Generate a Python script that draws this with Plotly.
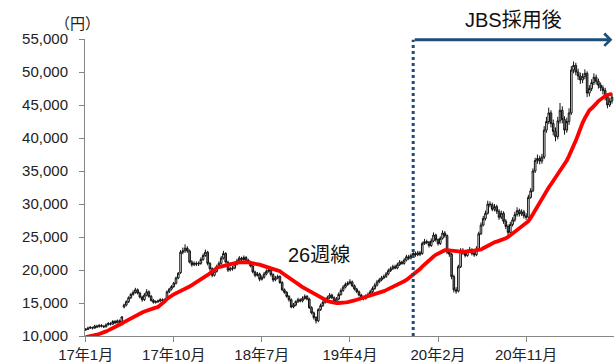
import plotly.graph_objects as go

# Weekly OHLC prices (thousand yen), first week = Jan 2017
open_k = [
    10.9, 11.0, 11.2, 11.3, 11.2, 11.5, 11.4, 11.6, 11.5, 11.4,
    11.7, 11.9, 11.8, 12.2, 12.0, 12.3, 12.1, 14.4, 14.7, 15.2,
    15.8, 16.3, 16.6, 17.0, 16.5, 15.9, 15.5, 16.2, 16.7, 16.0,
    15.4, 15.1, 15.2, 15.3, 15.5, 15.4, 15.5, 16.7, 17.1, 17.5,
    18.0, 18.8, 19.6, 22.7, 22.9, 23.3, 22.9, 21.2, 20.8, 21.0,
    20.9, 21.0, 21.6, 22.2, 22.7, 21.0, 20.2, 19.2, 19.8, 20.5,
    21.0, 21.8, 22.5, 21.2, 20.0, 20.2, 20.3, 20.9, 21.4, 21.8,
    21.6, 21.9, 21.5, 21.2, 20.6, 19.7, 19.2, 19.4, 18.6, 18.9,
    19.4, 19.8, 20.0, 19.3, 18.5, 18.8, 19.0, 18.1, 17.0, 16.6,
    16.0, 15.5, 14.4, 14.7, 15.2, 15.5, 15.3, 15.7, 16.0, 15.6,
    14.3, 13.5, 12.8, 12.3, 14.0, 14.6, 15.1, 15.5, 15.8, 16.2,
    15.8, 15.2, 15.6, 16.3, 16.9, 17.4, 17.8, 18.0, 18.2, 17.6,
    17.1, 16.7, 16.2, 15.9, 15.7, 16.0, 16.3, 16.7, 17.2, 17.7,
    18.2, 18.5, 18.8, 19.0, 19.4, 19.9, 20.2, 20.5, 20.3, 20.8,
    21.2, 21.0, 21.5, 22.0, 21.8, 22.2, 22.5, 22.3, 22.6, 22.5,
    24.0, 24.3, 24.2, 23.7, 24.4, 25.3, 24.6, 24.0, 24.8, 25.6,
    25.2, 22.7, 22.4, 19.0, 17.0, 16.8, 20.5, 23.0, 22.6, 22.2,
    22.8, 23.1, 22.5, 22.3, 23.2, 25.5, 26.8, 27.8, 28.6, 30.0,
    29.9, 29.2, 29.6, 28.9, 28.0, 28.6, 27.4, 26.6, 25.7, 26.9,
    27.6, 28.4, 29.0, 28.5, 28.8, 28.2, 28.0, 31.0, 32.0, 35.0,
    36.6, 36.9, 36.5, 37.1, 41.2, 42.5, 43.8, 42.2, 41.0, 40.2,
    42.6, 44.2, 42.8, 41.2, 42.5, 43.8, 50.3, 51.0, 50.0, 49.4,
    48.8, 49.3, 49.8, 46.8, 47.5, 48.4, 49.2, 48.6, 48.0, 47.6,
    47.2, 46.2, 45.0, 45.6,
]
high_k = [
    11.2, 11.4, 11.5, 11.4, 11.7, 11.7, 11.8, 11.8, 11.6, 11.9,
    12.1, 12.1, 12.4, 12.4, 12.5, 12.5, 13.0, 14.9, 15.4, 16.0,
    16.5, 16.9, 17.3, 17.2, 16.7, 16.1, 16.5, 17.1, 16.9, 16.2,
    15.6, 15.4, 15.5, 15.7, 15.7, 15.7, 16.9, 17.3, 17.7, 18.2,
    19.0, 19.7, 23.0, 23.4, 23.9, 23.6, 23.1, 21.5, 21.3, 21.3,
    21.3, 21.9, 22.5, 23.1, 22.9, 21.2, 20.4, 20.1, 20.8, 21.3,
    22.1, 22.9, 22.7, 21.4, 20.5, 20.6, 21.2, 21.7, 22.1, 22.0,
    22.2, 22.1, 21.7, 21.4, 20.8, 19.9, 19.7, 19.6, 19.2, 19.7,
    20.1, 20.3, 20.2, 19.5, 19.1, 19.3, 19.2, 18.3, 17.2, 16.8,
    16.2, 15.7, 15.0, 15.4, 15.8, 15.7, 16.0, 16.3, 16.2, 15.8,
    14.5, 13.7, 13.0, 14.2, 14.9, 15.4, 15.8, 16.1, 16.5, 16.4,
    16.0, 15.9, 16.6, 17.2, 17.7, 18.1, 18.3, 18.6, 18.4, 17.8,
    17.3, 16.9, 16.4, 16.1, 16.3, 16.6, 17.0, 17.5, 18.0, 18.5,
    18.8, 19.1, 19.3, 19.7, 20.2, 20.5, 20.8, 20.8, 21.1, 21.5,
    21.4, 21.8, 22.3, 22.3, 22.5, 22.8, 22.8, 22.9, 22.9, 24.3,
    24.7, 24.6, 24.4, 24.8, 25.7, 25.5, 24.8, 25.1, 26.0, 25.9,
    25.4, 23.0, 22.6, 19.3, 17.4, 20.8, 23.3, 23.3, 22.9, 23.1,
    23.5, 23.3, 22.8, 23.6, 25.8, 27.2, 28.2, 29.0, 30.5, 30.4,
    30.2, 30.0, 29.9, 29.2, 29.0, 28.9, 27.7, 26.9, 27.3, 28.0,
    28.8, 29.5, 29.3, 29.2, 29.1, 28.6, 31.4, 32.4, 35.4, 37.0,
    37.5, 37.3, 37.6, 41.8, 43.2, 44.6, 44.2, 42.8, 41.6, 43.2,
    45.3, 44.8, 43.3, 43.1, 44.5, 50.9, 51.6, 51.4, 50.5, 49.9,
    49.8, 50.4, 50.1, 48.0, 48.9, 49.8, 49.6, 49.0, 48.4, 48.0,
    47.6, 46.5, 46.1, 46.8,
]
low_k = [
    10.8, 10.9, 11.1, 11.0, 11.1, 11.2, 11.3, 11.3, 11.2, 11.3,
    11.6, 11.6, 11.7, 11.8, 11.9, 11.9, 12.0, 14.2, 14.5, 15.0,
    15.6, 16.1, 16.4, 16.3, 15.7, 15.2, 15.3, 16.0, 15.8, 15.2,
    14.9, 14.9, 15.0, 15.1, 15.2, 15.2, 15.3, 16.5, 16.9, 17.3,
    17.8, 18.6, 19.4, 22.4, 22.6, 22.6, 21.0, 20.5, 20.6, 20.6,
    20.6, 20.8, 21.4, 22.0, 20.7, 19.9, 18.9, 19.0, 19.6, 20.3,
    20.8, 21.6, 21.0, 19.7, 19.8, 19.9, 20.1, 20.7, 21.2, 21.3,
    21.4, 21.3, 20.9, 20.4, 19.5, 18.9, 19.0, 18.3, 18.4, 18.7,
    19.2, 19.6, 19.0, 18.2, 18.3, 18.6, 17.9, 16.8, 16.4, 15.8,
    15.2, 14.2, 14.2, 14.5, 15.0, 15.1, 15.1, 15.5, 15.4, 14.1,
    13.3, 12.5, 11.9, 12.1, 13.8, 14.4, 14.9, 15.3, 15.6, 15.6,
    15.0, 15.0, 15.4, 16.1, 16.7, 17.2, 17.6, 17.8, 17.4, 16.9,
    16.5, 16.0, 15.6, 15.4, 15.5, 15.8, 16.1, 16.5, 17.0, 17.5,
    18.0, 18.3, 18.6, 18.8, 19.2, 19.7, 20.0, 20.1, 20.1, 20.6,
    20.8, 20.8, 21.3, 21.5, 21.6, 22.0, 22.0, 22.1, 22.1, 22.3,
    23.8, 23.9, 23.4, 23.5, 24.2, 24.3, 23.7, 23.8, 24.6, 24.9,
    22.4, 22.0, 18.6, 16.6, 16.4, 16.6, 20.3, 22.3, 21.9, 22.0,
    22.6, 22.2, 22.0, 22.1, 23.0, 25.3, 26.6, 27.5, 28.4, 29.5,
    28.9, 28.9, 28.5, 27.6, 27.7, 27.0, 26.2, 25.3, 25.5, 26.6,
    27.3, 28.1, 28.1, 28.2, 27.8, 27.6, 27.8, 30.8, 31.8, 34.7,
    36.1, 36.0, 36.1, 36.8, 40.8, 42.1, 41.6, 40.4, 39.5, 39.8,
    42.2, 42.2, 40.5, 40.8, 42.0, 43.5, 49.8, 49.5, 48.8, 48.2,
    48.3, 48.9, 46.2, 46.3, 47.1, 48.0, 48.1, 47.5, 47.1, 46.6,
    45.7, 44.5, 44.7, 45.2,
]
close_k = [
    11.0, 11.2, 11.3, 11.2, 11.5, 11.4, 11.6, 11.5, 11.4, 11.7,
    11.9, 11.8, 12.2, 12.0, 12.3, 12.1, 12.9, 14.7, 15.2, 15.8,
    16.3, 16.6, 17.0, 16.5, 15.9, 15.5, 16.2, 16.7, 16.0, 15.4,
    15.1, 15.2, 15.3, 15.5, 15.4, 15.5, 16.7, 17.1, 17.5, 18.0,
    18.8, 19.5, 22.7, 22.9, 23.3, 22.9, 21.2, 20.8, 21.0, 20.9,
    21.0, 21.6, 22.2, 22.7, 21.0, 20.2, 19.2, 19.8, 20.5, 21.0,
    21.8, 22.5, 21.2, 20.0, 20.2, 20.3, 20.9, 21.4, 21.8, 21.6,
    21.9, 21.5, 21.2, 20.6, 19.7, 19.2, 19.4, 18.6, 18.9, 19.4,
    19.8, 20.0, 19.3, 18.5, 18.8, 19.0, 18.1, 17.0, 16.6, 16.0,
    15.5, 14.4, 14.7, 15.2, 15.5, 15.3, 15.7, 16.0, 15.6, 14.3,
    13.5, 12.8, 12.3, 14.0, 14.6, 15.1, 15.5, 15.8, 16.2, 15.8,
    15.2, 15.6, 16.3, 16.9, 17.4, 17.8, 18.0, 18.2, 17.6, 17.1,
    16.7, 16.2, 15.9, 15.7, 16.0, 16.3, 16.7, 17.2, 17.7, 18.2,
    18.5, 18.8, 19.0, 19.4, 19.9, 20.2, 20.5, 20.3, 20.8, 21.2,
    21.0, 21.5, 22.0, 21.8, 22.2, 22.5, 22.3, 22.6, 22.4, 24.0,
    24.3, 24.2, 23.7, 24.4, 25.3, 24.6, 24.0, 24.8, 25.6, 25.2,
    22.7, 22.4, 19.0, 17.0, 16.8, 20.5, 23.0, 22.6, 22.2, 22.8,
    23.1, 22.5, 22.3, 23.2, 25.5, 26.8, 27.8, 28.6, 30.0, 29.9,
    29.2, 29.6, 28.9, 28.0, 28.6, 27.4, 26.6, 25.7, 26.9, 27.6,
    28.4, 29.0, 28.5, 28.8, 28.2, 28.0, 31.0, 32.0, 35.0, 36.6,
    36.9, 36.5, 37.1, 41.2, 42.5, 43.8, 42.2, 41.0, 40.2, 42.6,
    44.2, 42.8, 41.2, 42.5, 43.8, 50.3, 51.0, 50.0, 49.4, 48.8,
    49.3, 49.8, 46.8, 47.5, 48.4, 49.2, 48.6, 48.0, 47.6, 47.2,
    46.2, 45.0, 45.6, 46.2,
]
# 26-week moving average (thousand yen)
ma26_k = [
    9.85, 9.9, 9.95, 10.0, 10.1, 10.2, 10.3, 10.4, 10.6, 10.7,
    10.85, 11.0, 11.15, 11.3, 11.5, 11.7, 11.9, 12.1, 12.3, 12.5,
    12.7, 12.85, 13.0, 13.2, 13.4, 13.55, 13.7, 13.85, 14.0, 14.1,
    14.2, 14.3, 14.4, 14.65, 14.95, 15.25, 15.6, 15.9, 16.1, 16.3,
    16.45, 16.6, 16.8, 16.95, 17.1, 17.3, 17.5, 17.7, 17.9, 18.1,
    18.3, 18.5, 18.75, 19.0, 19.25, 19.5, 19.8, 20.05, 20.3, 20.45,
    20.55, 20.65, 20.75, 20.85, 20.95, 21.0, 21.05, 21.1, 21.15, 21.2,
    21.2, 21.2, 21.15, 21.1, 21.0, 20.95, 20.9, 20.8, 20.7, 20.6,
    20.5, 20.4, 20.3, 20.2, 20.1, 20.0, 19.8, 19.55, 19.3, 19.0,
    18.75, 18.5, 18.25, 18.0, 17.8, 17.6, 17.4, 17.2, 17.0, 16.8,
    16.65, 16.5, 16.3, 16.1, 15.9, 15.7, 15.5, 15.3, 15.2, 15.1,
    15.05, 15.0, 15.0, 15.0, 15.05, 15.1, 15.15, 15.2, 15.3, 15.4,
    15.5, 15.6, 15.7, 15.8, 15.9, 16.0, 16.1, 16.2, 16.3, 16.4,
    16.5, 16.65, 16.8, 16.95, 17.1, 17.25, 17.4, 17.55, 17.7, 17.9,
    18.1, 18.3, 18.5, 18.75, 19.0, 19.25, 19.55, 19.85, 20.15, 20.5,
    20.85, 21.2, 21.5, 21.8, 22.05, 22.3, 22.5, 22.7, 22.85, 23.0,
    23.0, 22.95, 22.9, 22.85, 22.8, 22.75, 22.75, 22.75, 22.8, 22.8,
    22.85, 22.9, 22.95, 23.0, 23.05, 23.1, 23.3, 23.5, 23.7, 23.9,
    24.1, 24.2, 24.3, 24.4, 24.5, 24.6, 24.8, 25.0, 25.25, 25.5,
    25.75, 26.0, 26.25, 26.5, 26.75, 27.0, 27.4, 27.9, 28.5, 29.1,
    29.7, 30.3, 30.8, 31.4, 32.0, 32.5, 33.0, 33.5, 34.0, 34.5,
    35.0, 35.5, 36.0, 36.6, 37.3, 38.0, 38.8, 39.6, 40.5, 41.5,
    42.3, 43.0, 43.6, 44.2, 44.5, 44.8, 45.2, 45.6, 45.9, 46.2,
    46.35, 46.5, 46.6, 46.7,
]

weeks = list(range(len(close_k)))
tick_weeks = [0, 39, 78, 117, 156, 195]
tick_labels = ["17年1月", "17年10月", "18年7月", "19年4月", "20年2月", "20年11月"]
y_ticks = list(range(10000, 55001, 5000))
jbs_week = 145.0       # week the JBS adoption starts
arrow_level = 54900    # height of the "after adoption" arrow


def yen(values):
    return [round(v * 1000) for v in values]


FONT = "Liberation Sans, Arial, Noto Sans CJK JP, sans-serif"
NAVY = "#1F4E79"

fig = go.Figure()
fig.add_trace(go.Candlestick(
    x=weeks,
    open=yen(open_k), high=yen(high_k), low=yen(low_k), close=yen(close_k),
    increasing=dict(line=dict(color="#111111", width=1), fillcolor="#FFFFFF"),
    decreasing=dict(line=dict(color="#111111", width=1), fillcolor="#7F7F7F"),
    whiskerwidth=0,
    showlegend=False,
    hoverinfo="skip",
))
fig.add_trace(go.Scatter(
    x=weeks, y=yen(ma26_k), mode="lines",
    line=dict(color="#FF0000", width=3.8),
    showlegend=False, hoverinfo="skip",
))

# vertical dotted marker + arrow for the period after adoption
fig.add_shape(type="line", xref="x", yref="y",
              x0=jbs_week, x1=jbs_week, y0=10000, y1=arrow_level,
              line=dict(color=NAVY, width=3, dash="dot"))
fig.add_annotation(x=weeks[-1] + 0.2, y=arrow_level, ax=jbs_week, ay=arrow_level,
                   xref="x", yref="y", axref="x", ayref="y",
                   text="", showarrow=True, arrowhead=4, arrowsize=0.8,
                   arrowwidth=3, arrowcolor=NAVY)
fig.add_annotation(x=189.5, y=1.064, xref="x", yref="paper",
                   xanchor="center", yanchor="middle",
                   text="JBS採用後", showarrow=False,
                   font=dict(size=20, color="#111111", family=FONT))
fig.add_annotation(x=103.5, y=22300, xref="x", yref="y",
                   xanchor="center", yanchor="middle",
                   text="26週線", showarrow=False,
                   font=dict(size=20, color="#111111", family=FONT))
fig.add_annotation(x=-0.015, y=1.056, xref="paper", yref="paper",
                   xanchor="center", yanchor="middle",
                   text="（円）", showarrow=False,
                   font=dict(size=15, color="#222222",
                             family="Noto Sans CJK JP, sans-serif"))

fig.update_layout(
    width=614, height=364,
    margin=dict(l=85, r=0, t=39, b=28),
    paper_bgcolor="white", plot_bgcolor="white",
    font=dict(family=FONT, color="#222222"),
    showlegend=False,
    boxgap=0.0,
)
fig.update_xaxes(
    range=[-0.3, 233.9],
    tickmode="array", tickvals=tick_weeks, ticktext=tick_labels,
    tickfont=dict(size=15, color="#222222"),
    ticks="outside", ticklen=5, tickcolor="#868686",
    ticklabelstandoff=0,
    showline=True, linecolor="#868686", linewidth=1,
    showgrid=False, zeroline=False,
    rangeslider=dict(visible=False),
    automargin=False,
)
fig.update_yaxes(
    range=[10000, 55000],
    tickmode="array", tickvals=y_ticks,
    tickformat=",d",
    tickfont=dict(size=15, color="#222222"),
    ticks="outside", ticklen=5, tickcolor="#868686",
    ticklabelstandoff=8,
    showline=True, linecolor="#868686", linewidth=1,
    showgrid=False, zeroline=False,
    automargin=False,
)

fig.write_html("out.html")
